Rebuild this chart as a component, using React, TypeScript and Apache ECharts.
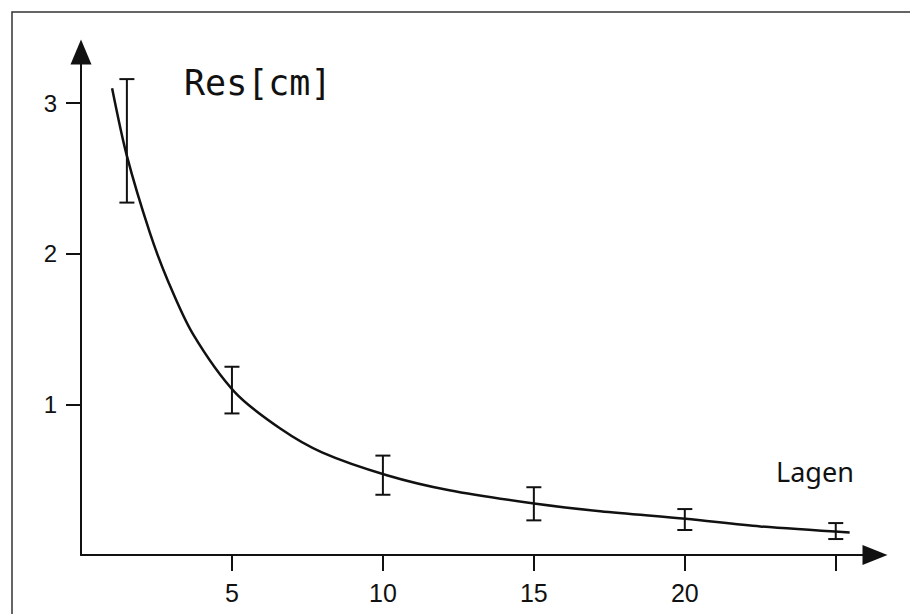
import React, { useEffect, useRef } from "react";
import * as echarts from "echarts";

// Fitted curve
const curveX = [1.03, 1.52, 2.28, 2.88, 3.7, 5.1, 6.6, 8.0, 10.13, 12.2, 15.07, 17.2, 20.03, 22.5, 25.46];
const curveY = [3.1, 2.65, 2.14, 1.82, 1.47, 1.08, 0.84, 0.68, 0.53, 0.43, 0.34, 0.29, 0.24, 0.19, 0.15];

// Error bars
const barX = [1.52, 5, 10, 15, 20, 25];
const barLow = [2.34, 0.94, 0.4, 0.23, 0.166, 0.106];
const barHigh = [3.16, 1.25, 0.66, 0.45, 0.305, 0.212];

// Tick labels
const xTicks = [5, 10, 15, 20, 25];
const xLabels = [5, 10, 15, 20];
const yTicks = [1, 2, 3];

const yName = "Res[cm]";
const xName = "Lagen";

const NUM_FONT = "'Liberation Sans', Arial, sans-serif";

export default function App() {
  const ref = useRef<HTMLDivElement>(null);

  useEffect(() => {
    if (!ref.current) return;
    const chart = echarts.init(ref.current, null, { renderer: "svg" });
    const ink = "#111";

    const curveData = curveX.map((x, i) => [x, curveY[i]]);
    const barData = barX.map((x, i) => [x, barLow[i], barHigh[i]]);

    chart.setOption({
      animation: false,
      backgroundColor: "#fff",
      grid: {
        left: 81,
        right: 35,
        top: 52,
        bottom: 59,
        containLabel: false,
        outerBoundsMode: "none",
      },
      xAxis: {
        type: "value",
        min: 0,
        max: 26.3,
        axisLine: {
          show: true,
          onZero: false,
          symbol: ["none", "triangle"],
          symbolSize: [20, 25],
          lineStyle: { color: ink, width: 2 },
        },
        axisTick: {
          show: true,
          inside: false,
          length: 16,
          customValues: xTicks,
          lineStyle: { color: ink, width: 2 },
        },
        axisLabel: {
          show: true,
          customValues: xLabels,
          margin: 25,
          fontSize: 25,
          fontFamily: NUM_FONT,
          color: ink,
        },
        splitLine: { show: false },
      },
      yAxis: {
        type: "value",
        min: 0,
        max: 3.34,
        axisLine: {
          show: true,
          onZero: false,
          symbol: ["none", "triangle"],
          symbolSize: [21, 25],
          lineStyle: { color: ink, width: 2 },
        },
        axisTick: {
          show: true,
          inside: false,
          length: 15,
          customValues: yTicks,
          lineStyle: { color: ink, width: 2 },
        },
        axisLabel: {
          show: true,
          customValues: yTicks,
          margin: 24,
          fontSize: 24,
          fontFamily: NUM_FONT,
          color: ink,
        },
        splitLine: { show: false },
      },
      series: [
        {
          type: "line",
          data: curveData,
          smooth: 0.3,
          showSymbol: false,
          symbol: "none",
          lineStyle: { color: ink, width: 2.5 },
          z: 3,
        },
        {
          type: "custom",
          data: barData,
          encode: { x: 0, y: [1, 2] },
          renderItem: (params: any, api: any) => {
            const x = api.value(0);
            const lo = api.coord([x, api.value(1)]);
            const hi = api.coord([x, api.value(2)]);
            const hw = 7.5;
            const st = { stroke: ink, lineWidth: 2 };
            return {
              type: "group",
              children: [
                { type: "line", shape: { x1: lo[0], y1: lo[1], x2: hi[0], y2: hi[1] }, style: st },
                { type: "line", shape: { x1: hi[0] - hw, y1: hi[1], x2: hi[0] + hw, y2: hi[1] }, style: st },
                { type: "line", shape: { x1: lo[0] - hw, y1: lo[1], x2: lo[0] + hw, y2: lo[1] }, style: st },
              ],
            };
          },
          z: 4,
        },
      ],
      graphic: [
        {
          type: "polyline",
          shape: { points: [[12, 614], [12, 12], [910, 12]] },
          style: { stroke: "#333", lineWidth: 1.5, fill: "none" },
          silent: true,
        },
        {
          type: "text",
          x: 184,
          y: 83,
          style: {
            text: yName,
            fontSize: 35,
            fontFamily: "'DejaVu Sans Mono', monospace",
            fill: ink,
            verticalAlign: "middle",
            align: "left",
          },
        },
        {
          type: "text",
          x: 776,
          y: 471,
          style: {
            text: xName,
            fontSize: 27,
            fontFamily: "'Noto Sans', 'Liberation Sans', sans-serif",
            fill: ink,
            verticalAlign: "middle",
            align: "left",
          },
        },
      ],
    });

    return () => chart.dispose();
  }, []);

  return (
    <div
      ref={ref}
      style={{ position: "fixed", left: 0, top: 0, width: 910, height: 614, background: "#fff" }}
    />
  );
}
